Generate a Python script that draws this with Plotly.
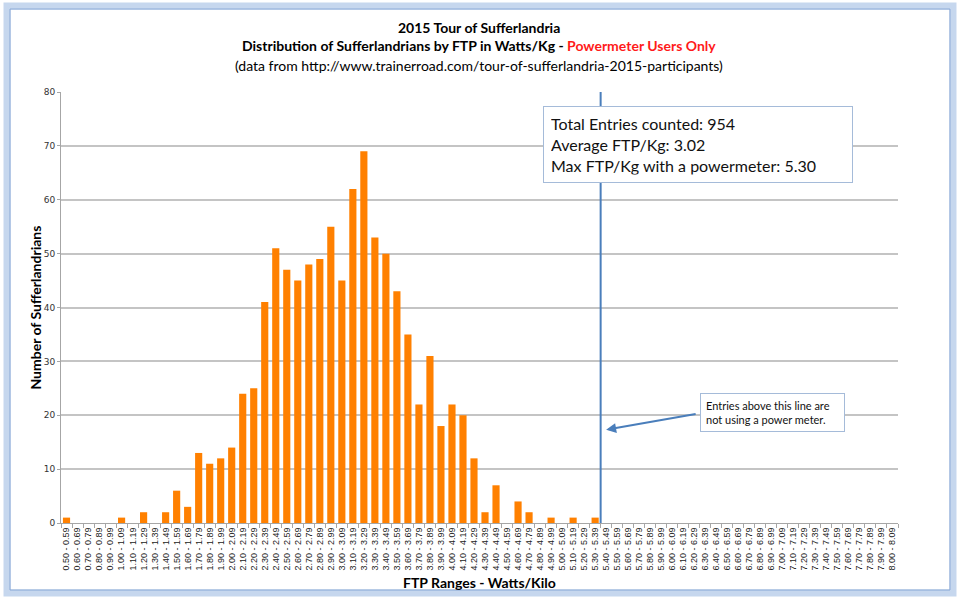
import plotly.graph_objects as go

# rangos de FTP (W/kg) - etiquetas del eje x
rangos = [
    "0.50 - 0.59", "0.60 - 0.69", "0.70 - 0.79", "0.80 - 0.89", "0.90 - 0.99",
    "1.00 - 1.09", "1.10 - 1.19", "1.20 - 1.29", "1.30 - 1.39", "1.40 - 1.49",
    "1.50 - 1.59", "1.60 - 1.69", "1.70 - 1.79", "1.80 - 1.89", "1.90 - 1.99",
    "2.00 - 2.09", "2.10 - 2.19", "2.20 - 2.29", "2.30 - 2.39", "2.40 - 2.49",
    "2.50 - 2.59", "2.60 - 2.69", "2.70 - 2.79", "2.80 - 2.89", "2.90 - 2.99",
    "3.00 - 3.09", "3.10 - 3.19", "3.20 - 3.29", "3.30 - 3.39", "3.40 - 3.49",
    "3.50 - 3.59", "3.60 - 3.69", "3.70 - 3.79", "3.80 - 3.89", "3.90 - 3.99",
    "4.00 - 4.09", "4.10 - 4.19", "4.20 - 4.29", "4.30 - 4.39", "4.40 - 4.49",
    "4.50 - 4.59", "4.60 - 4.69", "4.70 - 4.79", "4.80 - 4.89", "4.90 - 4.99",
    "5.00 - 5.09", "5.10 - 5.19", "5.20 - 5.29", "5.30 - 5.39", "5.40 - 5.49",
    "5.50 - 5.59", "5.60 - 5.69", "5.70 - 5.79", "5.80 - 5.89", "5.90 - 5.99",
    "6.00 - 6.09", "6.10 - 6.19", "6.20 - 6.29", "6.30 - 6.39", "6.40 - 6.49",
    "6.50 - 6.59", "6.60 - 6.69", "6.70 - 6.79", "6.80 - 6.89", "6.90 - 6.99",
    "7.00 - 7.09", "7.10 - 7.19", "7.20 - 7.29", "7.30 - 7.39", "7.40 - 7.49",
    "7.50 - 7.59", "7.60 - 7.69", "7.70 - 7.79", "7.80 - 7.89", "7.90 - 7.99",
    "8.00 - 8.09",
]

# numero de ciclistas por rango
ciclistas = [
    1, 0, 0, 0, 0, 1, 0, 2, 0, 2,
    6, 3, 13, 11, 12, 14, 24, 25, 41, 51,
    47, 45, 48, 49, 55, 45, 62, 69, 53, 50,
    43, 35, 22, 31, 18, 22, 20, 12, 2, 7,
    0, 4, 2, 0, 1, 0, 1, 0, 1, 0,
    0, 0, 0, 0, 0, 0, 0, 0, 0, 0,
    0, 0, 0, 0, 0, 0, 0, 0, 0, 0,
    0, 0, 0, 0, 0, 0,
]

ultimo_con_potenciometro = "5.30 - 5.39"
linea_x = rangos.index(ultimo_con_potenciometro) + 0.5

fuente = "Lato"
azul = "#4a7ebb"

fig = go.Figure()
fig.add_trace(go.Bar(x=rangos, y=ciclistas, marker_color="#ff8000", marker_line_width=0))

fig.update_layout(
    width=960, height=599,
    margin=dict(l=61, r=62, t=92, b=76),
    paper_bgcolor="white", plot_bgcolor="white",
    bargap=0.35, showlegend=False,
    font=dict(family=fuente, color="#000000"),
)

fig.update_xaxes(
    type="category", showgrid=False, showline=True, linecolor="#a6a6a6",
    ticks="outside", tickson="boundaries", ticklen=4, tickcolor="#a6a6a6",
    tickmode="array", tickvals=rangos, ticktext=rangos,
    tickangle=-90, tickfont=dict(family="Liberation Sans", size=9, color="#222222"),
)
fig.update_yaxes(
    range=[0, 80], dtick=10, showgrid=True, gridcolor="#c4c4c4", gridwidth=1.5,
    showline=True, linecolor="#a6a6a6", ticks="outside", ticklen=3, tickcolor="#a6a6a6",
    zeroline=False, tickfont=dict(family="DejaVu Sans", size=9, color="#333333"),
)

# linea vertical: a la derecha no hay potenciometro
fig.add_shape(type="line", xref="x", yref="paper", x0=linea_x, x1=linea_x, y0=0, y1=1,
              line=dict(color=azul, width=2))

# marco tipo Excel
fig.add_shape(type="rect", xref="paper", yref="paper",
              x0=-0.0645, x1=1.0657, y0=-0.1625, y1=1.1995,
              line=dict(color="#c6d7ee", width=7), layer="below")
fig.add_shape(type="rect", xref="paper", yref="paper",
              x0=-0.0609, x1=1.0621, y0=-0.1555, y1=1.1925,
              line=dict(color="#8aa8d6", width=1), layer="below")

titulos = [
    ("<b>2015 Tour of Sufferlandria</b>", 1.1485),
    ("<b>Distribution of Sufferlandrians by FTP in Watts/Kg - "
     "<span style='color:#ff1a1a'>Powermeter Users Only</span></b>", 1.1090),
    ("(data from http://www.trainerroad.com/tour-of-sufferlandria-2015-participants)", 1.0626),
]
for texto, yy in titulos:
    fig.add_annotation(text=texto, xref="paper", yref="paper", x=0.4998, y=yy,
                       xanchor="center", yanchor="middle", showarrow=False,
                       font=dict(family=fuente, size=14, color="#000000"))

fig.add_annotation(text="<b>Number of Sufferlandrians</b>", xref="paper", yref="paper",
                   x=-0.031, y=0.5, xanchor="center", yanchor="middle", textangle=-90,
                   showarrow=False, font=dict(family=fuente, size=14))
fig.add_annotation(text="<b>FTP Ranges - Watts/Kilo</b>", xref="paper", yref="paper",
                   x=0.5, y=-0.137, xanchor="center", yanchor="middle",
                   showarrow=False, font=dict(family=fuente, size=14))

# cuadro de resumen
fig.add_annotation(
    text="Total Entries counted: 954<br>Average FTP/Kg: 3.02<br>Max FTP/Kg with a powermeter: 5.30",
    xref="paper", yref="paper", x=0.5759, y=0.9675, xanchor="left", yanchor="top",
    align="left", showarrow=False, width=294, borderpad=7,
    bgcolor="white", bordercolor="#a5bbd9", borderwidth=1,
    font=dict(family=fuente, size=16, color="#111111"),
)

# nota con flecha
fig.add_annotation(
    text="Entries above this line are<br>not using a power meter.",
    xref="paper", yref="paper", x=0.7634, y=0.3016, xanchor="left", yanchor="top",
    align="left", showarrow=False, width=133, borderpad=5,
    bgcolor="white", bordercolor="#a5bbd9", borderwidth=1,
    font=dict(family=fuente, size=11, color="#111111"),
)
fig.add_annotation(text="", xref="x", yref="y", x=49.0, y=17.3, ax=91, ay=-16,
                   showarrow=True, arrowhead=2, arrowsize=1, arrowwidth=2, arrowcolor=azul)

fig.write_html("out.html", config={"displayModeBar": False},
               post_script="document.body.style.margin='0';")
